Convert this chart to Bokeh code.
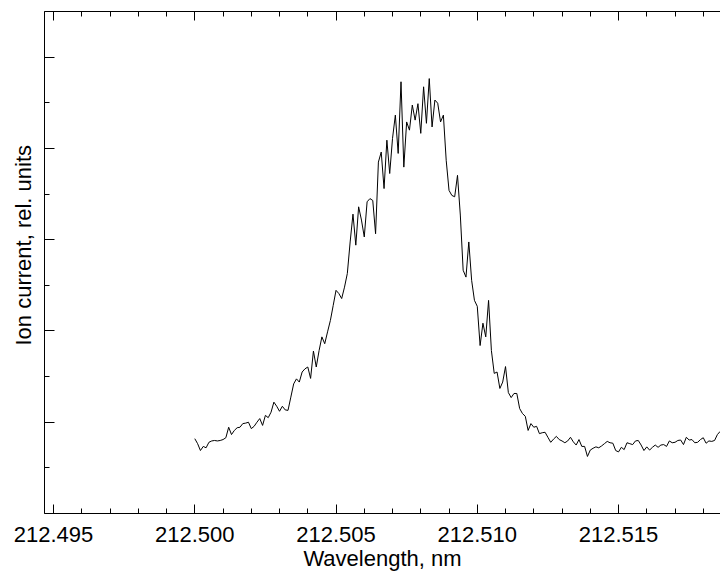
from bokeh.plotting import figure
from bokeh.models import Range1d, FixedTicker, PrintfTickFormatter, LinearAxis, Title
from bokeh.embed import file_html
from bokeh.resources import INLINE

# ---- data ----
WL_START = 212.5000   # nm, first sample
WL_STEP = 0.0001      # nm, sampling step

intensity = [
    1.64, 1.53, 1.38, 1.47, 1.44, 1.56, 1.59, 1.60, 1.59, 1.60,
    1.62, 1.66, 1.89, 1.73, 1.82, 1.88, 1.89, 1.97, 1.98, 2.00,
    1.86, 1.91, 2.00, 2.08, 1.93, 2.15, 2.10, 2.22, 2.44, 2.35,
    2.24, 2.35, 2.27, 2.26, 2.55, 2.84, 2.95, 2.88, 3.10, 3.17,
    3.21, 2.96, 3.56, 3.21, 3.57, 3.87, 3.72, 3.98, 4.23, 4.56,
    4.89, 4.82, 4.71, 4.96, 5.26, 5.95, 6.56, 5.88, 6.72, 6.43,
    6.06, 6.83, 6.90, 6.86, 6.13, 7.70, 7.92, 7.12, 8.18, 7.45,
    8.22, 8.73, 7.89, 9.46, 7.59, 8.58, 8.40, 8.95, 8.62, 8.98,
    8.33, 9.35, 8.55, 9.53, 8.47, 9.06, 8.99, 8.58, 8.73, 7.74,
    7.08, 6.97, 6.94, 7.41, 6.54, 5.33, 5.18, 5.95, 5.11, 4.67,
    4.54, 3.68, 4.17, 3.87, 4.67, 3.57, 3.07, 3.10, 2.74, 2.88,
    3.22, 2.65, 2.54, 2.63, 2.63, 2.30, 2.19, 2.13, 1.82, 1.97,
    1.89, 1.91, 1.75, 1.77, 1.78, 1.67, 1.56, 1.63, 1.69, 1.62,
    1.59, 1.55, 1.59, 1.67, 1.57, 1.50, 1.62, 1.47, 1.47, 1.25,
    1.39, 1.43, 1.46, 1.44, 1.48, 1.53, 1.58, 1.55, 1.54, 1.38,
    1.35, 1.45, 1.40, 1.55, 1.53, 1.51, 1.59, 1.60, 1.50, 1.38,
    1.46, 1.39, 1.45, 1.50, 1.45, 1.50, 1.51, 1.47, 1.59, 1.55,
    1.56, 1.60, 1.61, 1.51, 1.67, 1.61, 1.62, 1.55, 1.56, 1.62,
    1.66, 1.54, 1.59, 1.58, 1.60, 1.73, 1.80,
]
wavelength = [round(WL_START + WL_STEP * i, 4) for i in range(len(intensity))]

x_major_ticks = [212.495, 212.500, 212.505, 212.510, 212.515]
x_minor_ticks = [212.494, 212.495, 212.496, 212.497, 212.498, 212.499,
                 212.500, 212.501, 212.502, 212.503, 212.504, 212.505,
                 212.506, 212.507, 212.508, 212.509, 212.510, 212.511,
                 212.512, 212.513, 212.514, 212.515, 212.516, 212.517,
                 212.518, 212.519]
y_major_ticks = [0, 2, 4, 6, 8, 10]
y_minor_ticks = [1, 3, 5, 7, 9, 11]

x_title = "Wavelength, nm"
y_title = "Ion current, rel. units"

X_START, X_END = 212.49468, 212.51861
Y_START, Y_END = 0, 11

FONT = "Liberation Sans"
FS = "22px"

p = figure(width=720, height=573,
           x_range=Range1d(X_START, X_END), y_range=Range1d(Y_START, Y_END),
           output_backend="svg", toolbar_location=None,
           min_border_left=43, min_border_right=0, min_border_top=11,
           min_border_bottom=60,
           x_axis_label=x_title)
p.outline_line_color = None
p.background_fill_color = "white"
p.border_fill_color = "white"
p.xgrid.visible = False
p.ygrid.visible = False

p.line(wavelength, intensity, line_color="black", line_width=1)

xticker = FixedTicker(ticks=x_major_ticks, minor_ticks=x_minor_ticks)
yticker = FixedTicker(ticks=y_major_ticks, minor_ticks=y_minor_ticks)


def style_axis(ax):
    ax.axis_line_color = "black"
    ax.axis_line_width = 1
    ax.major_tick_line_color = "black"
    ax.minor_tick_line_color = "black"
    ax.major_tick_out = 0
    ax.minor_tick_out = 0
    ax.axis_label_text_font = FONT
    ax.axis_label_text_font_size = FS
    ax.axis_label_text_font_style = "normal"
    ax.axis_label_text_color = "black"
    ax.major_label_text_font = FONT
    ax.major_label_text_color = "black"


def hide_labels(ax):
    ax.major_label_text_font_size = "0px"
    ax.major_label_text_color = None
    ax.major_label_standoff = 0


xa = p.xaxis[0]
style_axis(xa)
xa.ticker = xticker
xa.formatter = PrintfTickFormatter(format="%.3f")
xa.major_tick_in = 9
xa.minor_tick_in = 5
xa.major_label_text_font_size = FS
xa.major_label_standoff = 13
xa.axis_label_standoff = 1

ya = p.yaxis[0]
style_axis(ya)
ya.ticker = yticker
ya.major_tick_in = 10
ya.minor_tick_in = 5
hide_labels(ya)

top = LinearAxis(ticker=xticker)
style_axis(top)
top.major_tick_in = 9
top.minor_tick_in = 5
hide_labels(top)
p.add_layout(top, "above")

# y-axis title as a side title, so it can sit a little above the frame centre
y_title_obj = Title(text=y_title, align="left", offset=168, vertical_align="bottom",
                    standoff=17, text_font=FONT, text_font_size=FS,
                    text_font_style="normal", text_color="black")
p.add_layout(y_title_obj, "left")

open("out.html", "w").write(file_html(p, INLINE))
